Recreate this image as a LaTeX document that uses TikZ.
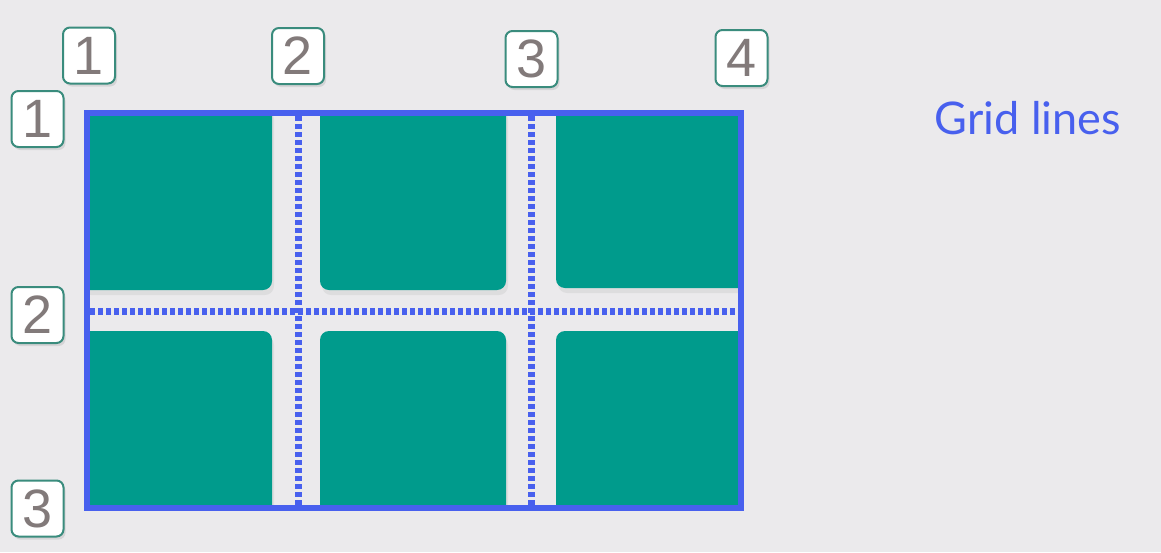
\documentclass[tikz,border=0pt]{standalone}
\usepackage{fontspec}
\setmainfont{Liberation Sans}
\newfontfamily\latofont{Lato}
\usetikzlibrary{shadows}
\definecolor{bg}{RGB}{235,234,236}
\definecolor{cellteal}{RGB}{0,155,140}
\definecolor{gblue}{RGB}{72,96,238}
\definecolor{lblborder}{RGB}{58,140,125}
\definecolor{numgray}{RGB}{130,122,122}
\tikzset{
  numlbl/.style={draw=lblborder, line width=2pt, fill=white, rounded corners=7pt,
    minimum width=52pt, minimum height=56pt, inner sep=0pt, text=numgray,
    font=\fontsize{54}{54}\selectfont,
    drop shadow={opacity=0.2, shadow xshift=2pt, shadow yshift=-3pt}},
  cellbox/.style={fill=cellteal, rounded corners=9pt,
    drop shadow={opacity=0.12, shadow xshift=2pt, shadow yshift=-5pt}},
  griddash/.style={draw=gblue, line width=7pt, dash pattern=on 5pt off 3pt},
  gridframe/.style={draw=gblue, line width=5.5pt}
}
\begin{document}
\begin{tikzpicture}[x=1pt,y=-1pt]
\fill[bg] (0,0) rectangle (1161,552);
\useasboundingbox (0,0) rectangle (1161,552);
% cells
\begin{scope}
\clip (87,113) rectangle (741,508);
\fill[cellbox] (80,105) rectangle (272,290);
\fill[cellbox] (320,105) rectangle (506,290);
\fill[cellbox] (556,105) rectangle (750,288);
\fill[cellbox] (80,331) rectangle (272,515);
\fill[cellbox] (320,331) rectangle (506,515);
\fill[cellbox] (556,331) rectangle (750,515);
\end{scope}
% grid lines
\draw[griddash] (298,116) -- (298,505);
\draw[griddash] (531,116) -- (531,505);
\draw[griddash] (90,311) -- (738,311);
\draw[gridframe] (87,113) rectangle (741,508);
% labels
\node[numlbl] (c1) at (89,55.5) {1};
\node[numlbl] (c2) at (298,56) {2};
\node[numlbl] (c3) at (531.5,59) {3};
\node[numlbl] (c4) at (741.5,58) {4};
\node[numlbl] (r1) at (37.5,119) {1};
\node[numlbl] (r2) at (37.5,315) {2};
\node[numlbl] (r3) at (37.5,508.5) {3};
\node[text=gblue, font=\latofont\fontsize{45}{45}\selectfont] (title) at (1028,118) {Grid lines};
\end{tikzpicture}
\end{document}
